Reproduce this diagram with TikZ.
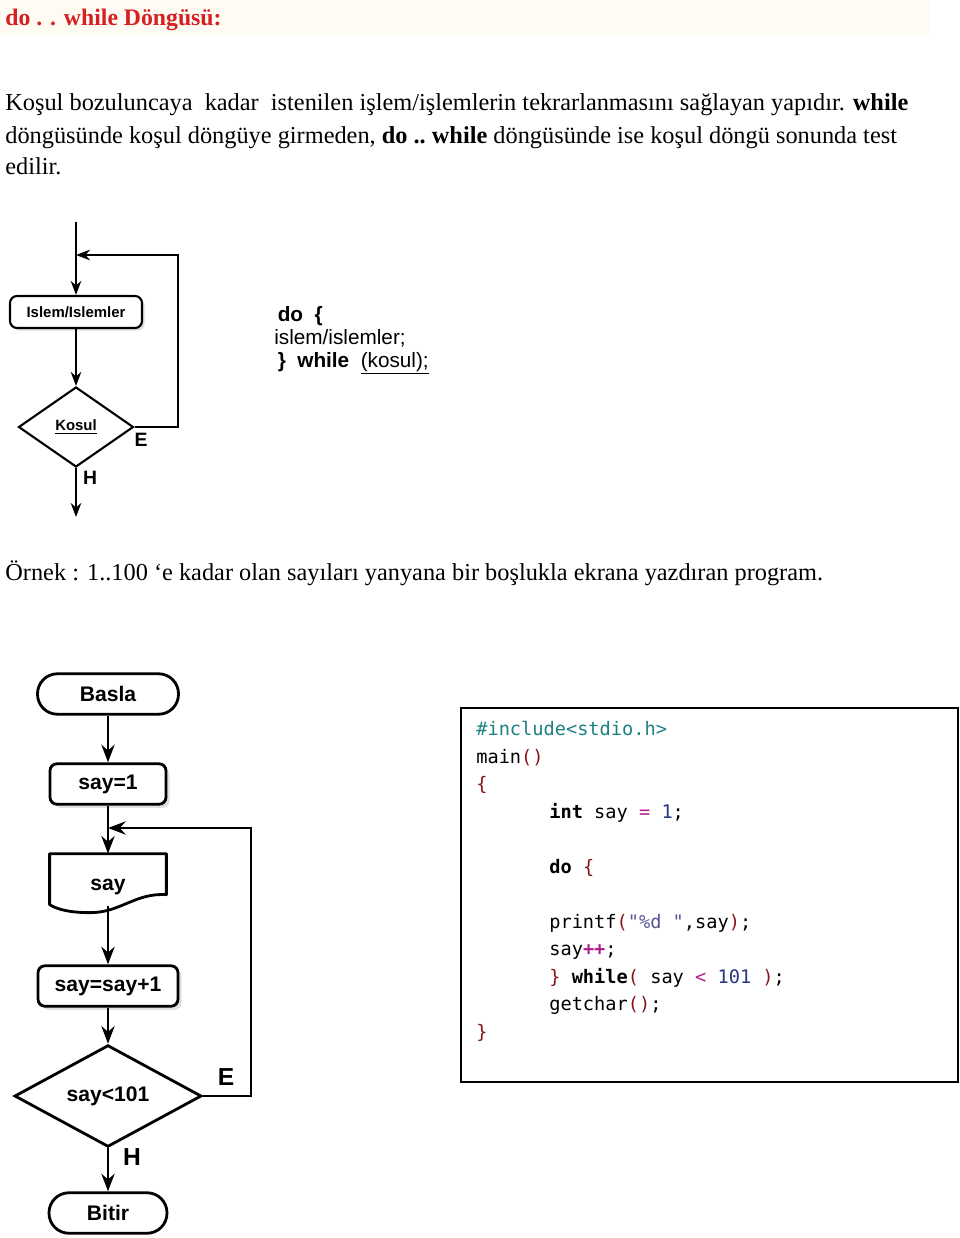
\documentclass[tikz,border=0pt]{standalone}
\usepackage{fontspec}
\setmainfont{Liberation Serif}
\setsansfont{Liberation Sans}
\setmonofont{DejaVu Sans Mono}
\usetikzlibrary{shapes.geometric,arrows.meta,shadows}
\definecolor{titlered}{RGB}{215,30,35}
\definecolor{bandcream}{RGB}{253,251,242}
\definecolor{incteal}{RGB}{30,128,128}
\definecolor{brkred}{RGB}{135,20,25}
\definecolor{opmag}{RGB}{175,30,140}
\definecolor{numblue}{RGB}{40,55,125}
\definecolor{strblue}{RGB}{85,85,150}
\begin{document}
\begin{tikzpicture}
		\tikzstyle{Body} = [anchor=base west, inner sep=0pt, font=\fontsize{13.85}{16}\selectfont]
		\tikzstyle{SmallBox} = [rectangle, rounded corners=4pt, minimum width=2.64cm, minimum height=0.64cm, draw=black, line width=1.2pt, fill=white, drop shadow={opacity=0.25, shadow xshift=1.5pt, shadow yshift=-1.5pt}, font=\sffamily\bfseries\fontsize{8.5}{10}\selectfont]
		\tikzstyle{SmallDecision} = [diamond, minimum width=2.3cm, minimum height=1.6cm, inner sep=0pt, draw=black, line width=1.2pt, font=\sffamily\bfseries\fontsize{8.5}{10}\selectfont]
		\tikzstyle{Process} = [rectangle, rounded corners=4pt, minimum height=0.81cm, draw=black, line width=1.6pt, fill=white, drop shadow={opacity=0.25, shadow xshift=2pt, shadow yshift=-2pt}, font=\sffamily\bfseries\fontsize{12}{14}\selectfont]
		\tikzstyle{Terminal} = [rectangle, rounded corners=0.4cm, minimum height=0.81cm, draw=black, line width=1.6pt, font=\sffamily\bfseries\fontsize{12}{14}\selectfont]
		\tikzstyle{Decision} = [diamond, minimum width=3.74cm, minimum height=1.98cm, inner sep=0pt, draw=black, line width=1.6pt, font=\sffamily\bfseries\fontsize{12}{14}\selectfont]
		\tikzstyle{Label} = [font=\sffamily\bfseries\fontsize{14}{16}\selectfont, inner sep=0pt]
		\tikzstyle{thinarrow} = [line width=1.2pt, -{Stealth[length=8pt, width=6pt]}]
		\tikzstyle{arrow} = [line width=1.6pt, -{Stealth[length=10pt, width=7.5pt]}]

		\useasboundingbox (0,0) rectangle (19.2,-24.76);
		\fill [bandcream] (0,0) rectangle (18.6,-0.72);
		\node (title) [anchor=base west, inner sep=0pt, text=titlered, font=\bfseries\fontsize{13.5}{16}\selectfont] at (0.1,-0.5) {do . . while Döngüsü:};

		\node (line1) [Body] at (0.1,-2.2) {Koşul bozuluncaya\ \ kadar\ \ istenilen işlem/işlemlerin tekrarlanmasını sağlayan yapıdır. \textbf{while}};
		\node (line2) [Body] at (0.1,-2.86) {döngüsünde koşul döngüye girmeden, \textbf{do ..\ while} döngüsünde ise koşul döngü sonunda test};
		\node (line3) [Body] at (0.1,-3.48) {edilir.};

		% genel akis
		\coordinate (topin) at (1.52,-4.44);
		\coordinate (topjoin) at (1.52,-5.1);
		\coordinate (topout) at (1.52,-10.34);
		\node (islem) [SmallBox] at (1.52,-6.24) {Islem/Islemler};
		\node (kosul) [SmallDecision] at (1.52,-8.54) {\underline{Kosul}};
		\node (topE) [Label, font=\sffamily\bfseries\fontsize{11}{13}\selectfont] at (2.82,-8.8) {E};
		\node (topH) [Label, font=\sffamily\bfseries\fontsize{11}{13}\selectfont] at (1.8,-9.56) {H};
		\draw [thinarrow] (topin) -- (islem);
		\draw [thinarrow] (islem) -- (kosul);
		\draw [thinarrow] (kosul.east) -- ++(0.86,0) |- (topjoin);
		\draw [thinarrow] (kosul.south) -- (topout);

		\node (syntax) [anchor=north west, align=left, inner sep=0pt, font=\sffamily\fontsize{11.8}{13}\selectfont] at (5.48,-6.12) {\,\textbf{do\ \ \{}\\islem/islemler;\\\,\textbf{\}\ \ while}\ \ \underline{(kosul);}};

		\node (ornek) [Body] at (0.1,-11.6) {Örnek : 1..100 ‘e kadar olan sayıları yanyana bir boşlukla ekrana yazdıran program.};

		% ornek akis
		\node (basla) [Terminal, minimum width=2.82cm] at (2.16,-13.88) {Basla};
		\node (say1) [Process, minimum width=2.32cm] at (2.16,-15.68) {say=1};
		\node (yaz) [minimum width=2.32cm, minimum height=1.16cm, inner sep=0pt, font=\sffamily\bfseries\fontsize{12}{14}\selectfont] at (2.16,-17.66) {\raisebox{-4.2pt}[0pt][0pt]{say}};
		\draw [line width=1.6pt, line join=round] (yaz.north west) -- (yaz.north east) -- ([yshift=-0.82cm]yaz.north east)
			.. controls +(-0.62,0.04) and +(0.6,0) .. ++(-1.52,-0.36)
			.. controls +(-0.4,0) and +(0.16,-0.1) .. ([yshift=-1.02cm]yaz.north west) -- cycle;
		\node (arttir) [Process, minimum width=2.8cm] at (2.16,-19.72) {say=say+1};
		\node (test) [Decision] at (2.16,-21.92) {say<101};
		\node (bitir) [Terminal, minimum width=2.36cm] at (2.16,-24.26) {Bitir};
		\node (botE) [Label] at (4.52,-21.54) {E};
		\node (botH) [Label] at (2.64,-23.14) {H};
		\coordinate (join) at (2.16,-16.56);
		\draw [arrow] (basla) -- (say1);
		\draw [arrow] (say1) -- (yaz);
		\draw [arrow] ([yshift=0.12cm]yaz.south) -- (arttir);
		\draw [arrow] (arttir) -- (test);
		\draw [arrow] (test.east) -- ++(0.96,0) |- (join);
		\draw [arrow] (test) -- (bitir);

		% kod
		\node (kodkutu) [rectangle, draw=black, line width=1pt, minimum width=9.94cm, minimum height=7.48cm] at (14.19,-17.9) {};
		\node (kod) [anchor=north west, align=left, inner sep=0pt, font=\ttfamily\fontsize{10.6}{15.65}\selectfont] at (9.52,-14.42) {%
			\textcolor{incteal}{\#include<stdio.h>}\\
			main\textcolor{brkred}{()}\\
			\textcolor{brkred}{\{}\\
			\hspace*{1.46cm}\textbf{int} say \textcolor{opmag}{=} \textcolor{numblue}{1};\\
			\mbox{}\\
			\hspace*{1.46cm}\textbf{do} \textcolor{brkred}{\{}\\
			\mbox{}\\
			\hspace*{1.46cm}printf\textcolor{brkred}{(}\textcolor{strblue}{"\%d\ "},say\textcolor{brkred}{)};\\
			\hspace*{1.46cm}say\textcolor{opmag}{\textbf{++}};\\
			\hspace*{1.46cm}\textcolor{brkred}{\}} \textbf{while}\textcolor{brkred}{(} say \textcolor{opmag}{<} \textcolor{numblue}{101} \textcolor{brkred}{)};\\
			\hspace*{1.46cm}getchar\textcolor{brkred}{()};\\
			\textcolor{brkred}{\}}};
		\end{tikzpicture}
\end{document}
